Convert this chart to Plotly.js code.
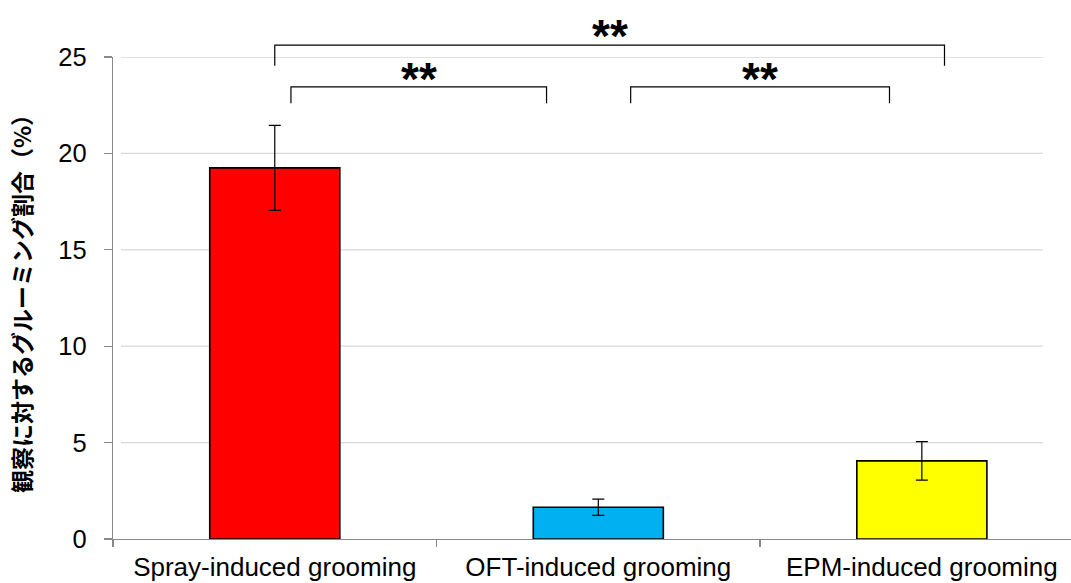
<!DOCTYPE html>
<html><head><meta charset="utf-8">
<script src="https://cdn.plot.ly/plotly-3.0.1.min.js"></script>
<style>body{margin:0;padding:0;background:#fff}</style>
</head><body>
<div id="chart" style="width:1071px;height:583px"></div>
<script>
const categories = ["Spray-induced grooming", "OFT-induced grooming", "EPM-induced grooming"];
const values = [19.25, 1.65, 4.05];
const errors = [2.2, 0.42, 1.0];
const colors = ["#FF0000", "#00B0F0", "#FFFF00"];
const yTicks = [0, 5, 10, 15, 20, 25];
// significance comparisons: [fromIndex, toIndex, level(0 = top), label]
const comparisons = [[0, 2, 0, "**"], [0, 1, 1, "**"], [1, 2, 1, "**"]];

const W = 1071, H = 583, L = 113, B = 44, T = 57;
const xRange = [-0.5, 2.461];
const yRange = [0, 25];
const plotW = W - L, plotH = H - T - B;
const xToPaper = v => (v - xRange[0]) / (xRange[1] - xRange[0]);
const yp = v => (v - yRange[0]) / (yRange[1] - yRange[0]);

const shapes = [];
// gridlines
yTicks.filter(t => t > 0).forEach(t => {
  shapes.push({type:'line', xref:'paper', yref:'y', x0:8/plotW, x1:(1043-L)/plotW, y0:t, y1:t,
    line:{color:'#D9D9D9', width:1.3}, layer:'below'});
});
// brackets
const innerEnds = [[0.05, 0.84], [1.1, 1.9]];
const annotations = [];
comparisons.forEach((c, i) => {
  let x0, x1, top, bottom, ty;
  if (c[2] === 0) {
    x0 = 0.0; x1 = 2.07; top = 25.62; bottom = 24.55; ty = 26.08;
  } else {
    const e = innerEnds[i - 1];
    x0 = e[0]; x1 = e[1]; top = 23.45; bottom = 22.6; ty = 23.85;
  }
  shapes.push({type:'path', xref:'paper', yref:'paper',
    path:`M ${xToPaper(x0)} ${yp(bottom)} L ${xToPaper(x0)} ${yp(top)} L ${xToPaper(x1)} ${yp(top)} L ${xToPaper(x1)} ${yp(bottom)}`,
    line:{color:'#000', width:1.2}});
  annotations.push({xref:'paper', yref:'paper', x:xToPaper((x0 + x1) / 2), y:yp(ty),
    text:'<b>' + c[3] + '</b>', showarrow:false, font:{family:'Liberation Sans, Arial, sans-serif', size:46, color:'#000'},
    xanchor:'center', yanchor:'middle'});
});

const trace = {
  type:'bar', x:categories, y:values,
  marker:{color:colors, line:{color:'#000', width:1.6}},
  width:0.402,
  error_y:{type:'data', array:errors, visible:true, color:'#000', thickness:1.2, width:6},
  hoverinfo:'none'
};

const layout = {
  width:W, height:H,
  margin:{l:L, r:0, t:T, b:B, pad:0},
  paper_bgcolor:'#fff', plot_bgcolor:'#fff',
  showlegend:false,
  font:{family:'Liberation Sans, Arial, sans-serif', size:21, color:'#000'},
  xaxis:{type:'category', range:xRange, showgrid:false, zeroline:false,
    showline:true, linecolor:'#898989', linewidth:1.3,
    ticks:'outside', tickson:'boundaries', ticklen:7, tickcolor:'#898989', tickwidth:1.3,
    ticklabelstandoff:4,
    tickfont:{size:26, color:'#000'}, fixedrange:true},
  yaxis:{range:yRange, tickvals:yTicks, showgrid:false, zeroline:false,
    showline:true, linecolor:'#898989', linewidth:1.3,
    ticks:'outside', ticklen:8, tickcolor:'#898989', tickwidth:1.3,
    ticklabelstandoff:12,
    tickfont:{size:25.5, color:'#000'},
    title:{text:'<b>観察に対するグルーミング割合（%）</b>', standoff:20,
      font:{family:'Noto Sans CJK JP, sans-serif', size:23, color:'#000'}},
    fixedrange:true},
  shapes:shapes,
  annotations:annotations
};

Plotly.newPlot('chart', [trace], layout, {displayModeBar:false, staticPlot:true});
</script>
</body></html>
